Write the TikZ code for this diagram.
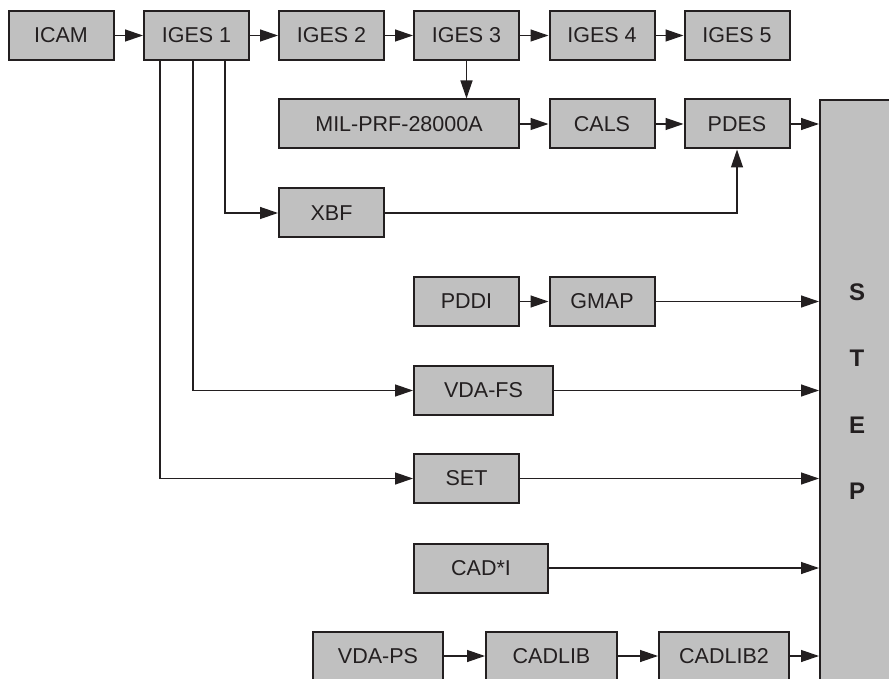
\documentclass[tikz,border=0pt]{standalone}
\usepackage{fontspec}
\setmainfont{Liberation Sans}
\usetikzlibrary{arrows.meta,calc}
\definecolor{boxfill}{HTML}{C0C0C0}
\definecolor{ink}{HTML}{231F20}
\begin{document}
\begin{tikzpicture}[x=1pt,y=-1pt,
 box/.style={draw=ink,line width=2pt,fill=boxfill,minimum width=105pt,minimum height=49pt,inner sep=0pt,font=\fontsize{21.5}{24}\selectfont,text=ink},
 conn/.style={draw=ink,line width=1.3pt,-{Triangle[length=18pt,width=12pt]}},
 letter/.style={font=\fontsize{24}{28}\selectfont\bfseries,text=ink,inner sep=0pt}]
\useasboundingbox (0,0) rectangle (889,679);
% row 1
\node[box] (icam) at (61,35.5) {ICAM};
\node[box] (iges1) at (196.5,35.5) {IGES 1};
\node[box] (iges2) at (331.5,35.5) {IGES 2};
\node[box] (iges3) at (466.5,35.5) {IGES 3};
\node[box] (iges4) at (602,35.5) {IGES 4};
\node[box] (iges5) at (737,35.5) {IGES 5};
% row 2
\node[box,minimum width=240pt] (mil) at (399,124) {MIL-PRF-28000A};
\node[box] (cals) at (602,124) {CALS};
\node[box] (pdes) at (737,124) {PDES};
% others
\node[box] (xbf) at (331.5,213) {XBF};
\node[box] (pddi) at (466.5,301.5) {PDDI};
\node[box] (gmap) at (602,301.5) {GMAP};
\node[box,minimum width=139pt] (vdafs) at (483.5,390.5) {VDA-FS};
\node[box] (set) at (466.5,478.5) {SET};
\node[box,minimum width=134pt] (cadi) at (481,568) {CAD*I};
\node[box,minimum width=130pt] (vdaps) at (378,656) {VDA-PS};
\node[box,minimum width=131pt] (cadlib) at (551.5,656) {CADLIB};
\node[box,minimum width=130pt] (cadlib2) at (724,656) {CADLIB2};
% STEP
\node[box,minimum width=80pt,minimum height=600pt,anchor=north west] (step) at (819,99) {};
\node[letter] (ls) at (857,292) {S};
\node[letter] (lt) at (857,358) {T};
\node[letter] (le) at (857,425) {E};
\node[letter] (lp) at (857,491) {P};
% connectors
\draw[conn] (icam) -- (iges1);
\draw[conn] (iges1) -- (iges2);
\draw[conn] (iges2) -- (iges3);
\draw[conn] (iges3) -- (iges4);
\draw[conn] (iges4) -- (iges5);
\draw[conn] (iges3.south) -- (iges3.south |- mil.north);
\draw[conn] (mil) -- (cals);
\draw[conn] (cals) -- (pdes);
\draw[conn] (pdes.east) -- (pdes.east -| step.west);
\draw[conn] ([xshift=82pt]iges1.south west) |- (xbf.west);
\draw[conn] (xbf.east) -| (pdes.south);
\draw[conn] (pddi) -- (gmap);
\draw[conn] (gmap.east) -- (gmap.east -| step.west);
\draw[conn] ([xshift=50pt]iges1.south west) |- (vdafs.west);
\draw[conn] (vdafs.east) -- (vdafs.east -| step.west);
\draw[conn] ([xshift=17pt]iges1.south west) |- (set.west);
\draw[conn] (set.east) -- (set.east -| step.west);
\draw[conn] (cadi.east) -- (cadi.east -| step.west);
\draw[conn] (vdaps) -- (cadlib);
\draw[conn] (cadlib) -- (cadlib2);
\draw[conn] (cadlib2.east) -- (cadlib2.east -| step.west);
\end{tikzpicture}
\end{document}
